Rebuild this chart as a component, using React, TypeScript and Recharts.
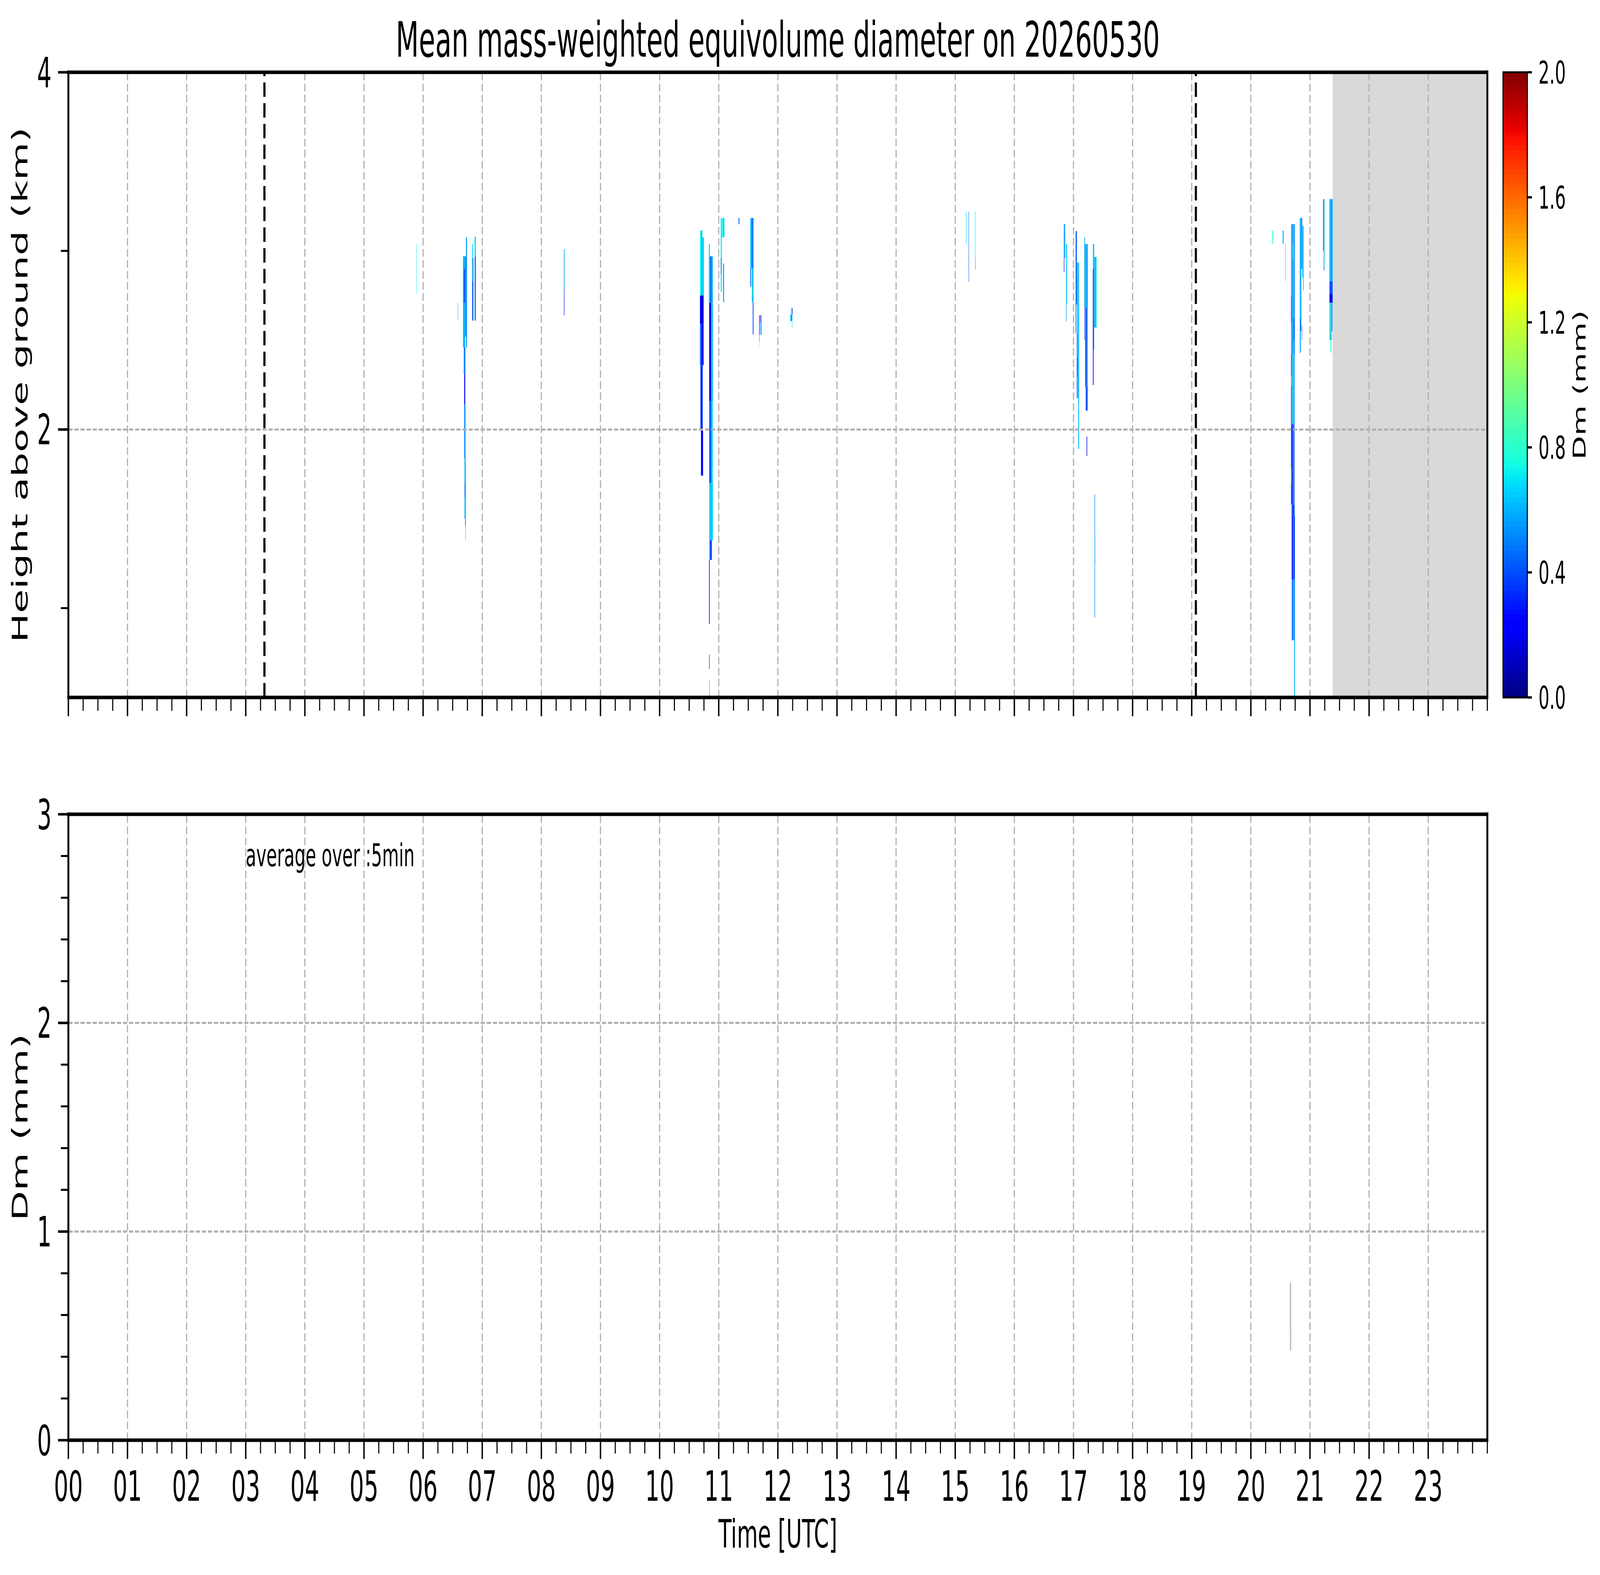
import React from 'react';
import { ComposedChart, XAxis, YAxis, ReferenceArea, ReferenceLine, Line, Scatter } from 'recharts';

const W = 7442;
const H = 4031;
const FONT = "'DejaVu Sans', 'Liberation Sans', sans-serif";

// ---------------- ticks / labels ----------------
const hourTicks = [0, 1, 2, 3, 4, 5, 6, 7, 8, 9, 10, 11, 12, 13, 14, 15, 16, 17, 18, 19, 20, 21, 22, 23];
const hourLabels = ['00', '01', '02', '03', '04', '05', '06', '07', '08', '09', '10', '11', '12', '13', '14', '15', '16', '17', '18', '19', '20', '21', '22', '23'];
const quarterTicks: number[] = [];
for (let h = 0; h < 24; h++) for (let q = 1; q < 4; q++) quarterTicks.push(h + q / 4);
quarterTicks.push(24);
const xTicks = [...hourTicks, ...quarterTicks].sort((a, b) => a - b);

const heightMajorTicks = [2, 4];
const heightLabels = ['2', '4'];
const heightTicks = [1, 2, 3, 4];

const dmMajorTicks = [0, 1, 2, 3];
const dmLabels = ['0', '1', '2', '3'];
const dmTicks: number[] = [];
for (let i = 0; i <= 15; i++) dmTicks.push(i / 5);

const cbarTicks = [0, 0.4, 0.8, 1.2, 1.6, 2.0];
const cbarLabels = ['0.0', '0.4', '0.8', '1.2', '1.6', '2.0'];

const gridHours = hourTicks.slice(1);
const gridHeights = [2];
const gridDm = [1, 2];

// sunrise / sunset markers (hours UTC)
const sunLines = [3.316, 19.07];
// missing data from this time onward
const missingFrom = 21.383;

// ---------------- Dm cells: [t0 (h), t1 (h), h0 (km), h1 (km), Dm (mm)] ----------------
type Cell = [number, number, number, number, number];

const cells0553: Cell[] = [
  [5.884, 5.890, 2.76, 3.04, 0.72],
];

const cells0640: Cell[] = [
  [6.585, 6.589, 2.61, 2.71, 0.45],
  [6.675, 6.688, 2.46, 2.97, 0.62],
  [6.688, 6.700, 2.46, 2.97, 0.50],
  [6.700, 6.712, 2.46, 2.97, 0.66],
  [6.712, 6.725, 2.52, 2.97, 0.48],
  [6.725, 6.742, 2.46, 3.076, 0.55],
  [6.690, 6.705, 2.71, 2.90, 0.35],
  [6.688, 6.715, 2.31, 2.46, 0.50],
  [6.695, 6.712, 2.14, 2.31, 0.26],
  [6.695, 6.716, 1.84, 2.14, 0.52],
  [6.700, 6.720, 1.50, 1.84, 0.60],
  [6.705, 6.712, 1.62, 1.70, 0.38],
  [6.712, 6.720, 1.46, 1.50, 0.30],
  [6.716, 6.720, 1.38, 1.46, 0.45],
  [6.829, 6.842, 2.83, 3.04, 0.65],
  [6.829, 6.842, 2.61, 2.83, 0.45],
  [6.842, 6.850, 2.61, 2.96, 0.30],
  [6.871, 6.892, 2.97, 3.08, 0.68],
  [6.871, 6.880, 2.61, 2.97, 0.50],
  [6.880, 6.892, 2.61, 2.97, 0.42],
];

const cells0823: Cell[] = [
  [8.380, 8.392, 2.79, 3.01, 0.62],
  [8.382, 8.390, 2.64, 2.79, 0.30],
];

const cells1041: Cell[] = [
  [10.683, 10.700, 2.75, 3.114, 0.74],
  [10.700, 10.722, 2.75, 3.114, 0.62],
  [10.722, 10.750, 2.75, 3.076, 0.68],
  [10.683, 10.745, 2.59, 2.75, 0.18],
  [10.683, 10.700, 2.36, 2.59, 0.45],
  [10.700, 10.745, 2.36, 2.59, 0.30],
  [10.690, 10.730, 2.00, 2.36, 0.35],
  [10.700, 10.735, 1.742, 2.00, 0.25],
  [10.833, 10.850, 2.71, 3.04, 0.66],
  [10.850, 10.880, 2.71, 2.97, 0.48],
  [10.880, 10.900, 2.71, 2.97, 0.60],
  [10.838, 10.870, 2.16, 2.71, 0.22],
  [10.870, 10.900, 2.16, 2.71, 0.62],
  [10.838, 10.875, 1.70, 2.16, 0.45],
  [10.875, 10.900, 1.70, 2.16, 0.68],
  [10.840, 10.900, 1.38, 1.70, 0.65],
  [10.845, 10.885, 1.27, 1.38, 0.40],
  [10.835, 10.848, 0.91, 1.27, 0.38],
  [10.838, 10.845, 0.66, 0.74, 0.20],
  [10.840, 10.845, 0.50, 0.60, 0.45],
];

const cells1102: Cell[] = [
  [11.034, 11.050, 2.77, 3.184, 0.70],
  [11.038, 11.046, 2.87, 2.96, 0.40],
  [11.050, 11.070, 3.076, 3.184, 0.76],
  [11.070, 11.096, 3.076, 3.184, 0.66],
  [11.074, 11.090, 2.713, 2.93, 0.55],
  [11.335, 11.350, 3.149, 3.184, 0.45],
];

const cells1132: Cell[] = [
  [11.534, 11.555, 2.90, 3.184, 0.62],
  [11.555, 11.588, 2.90, 3.184, 0.50],
  [11.534, 11.548, 2.80, 2.90, 0.45],
  [11.560, 11.588, 2.713, 2.90, 0.62],
  [11.565, 11.572, 2.75, 2.80, 0.85],
  [11.575, 11.588, 2.533, 2.713, 0.40],
  [11.684, 11.690, 2.53, 2.64, 0.15],
  [11.684, 11.690, 2.49, 2.53, 0.50],
  [11.697, 11.708, 2.60, 2.64, 0.22],
  [11.697, 11.708, 2.53, 2.60, 0.55],
  [11.719, 11.726, 2.53, 2.64, 0.32],
  [11.688, 11.691, 2.46, 2.50, 0.72],
];

const cells1213: Cell[] = [
  [12.233, 12.247, 2.644, 2.68, 0.35],
  [12.207, 12.220, 2.607, 2.644, 0.70],
  [12.220, 12.244, 2.607, 2.644, 0.55],
  [12.236, 12.244, 2.571, 2.607, 0.75],
];

const cells1511: Cell[] = [
  [15.182, 15.190, 3.041, 3.22, 0.72],
  [15.226, 15.232, 2.826, 3.22, 0.40],
  [15.333, 15.340, 2.96, 3.22, 0.70],
  [15.340, 15.346, 2.895, 2.96, 0.50],
];

const cells1650: Cell[] = [
  [16.838, 16.850, 2.96, 3.150, 0.45],
  [16.850, 16.862, 2.96, 3.150, 0.65],
  [16.838, 16.846, 2.88, 2.96, 0.25],
  [16.874, 16.882, 2.605, 3.04, 0.55],
  [16.882, 16.892, 2.70, 3.04, 0.68],
  [16.876, 16.882, 2.90, 2.96, 0.90],
  [17.035, 17.047, 2.54, 3.111, 0.50],
  [17.047, 17.058, 2.70, 3.111, 0.40],
  [17.058, 17.068, 2.54, 2.935, 0.62],
  [17.068, 17.082, 2.54, 2.935, 0.68],
  [17.082, 17.095, 2.54, 2.935, 0.60],
  [17.056, 17.068, 2.175, 2.54, 0.45],
  [17.068, 17.082, 2.175, 2.54, 0.66],
  [17.082, 17.095, 2.175, 2.54, 0.58],
  [17.062, 17.068, 2.30, 2.40, 0.20],
  [17.080, 17.095, 1.891, 2.175, 0.62],
  [17.183, 17.195, 2.682, 3.076, 0.62],
  [17.195, 17.207, 2.682, 3.038, 0.48],
  [17.207, 17.220, 2.682, 3.038, 0.66],
  [17.220, 17.232, 2.682, 3.038, 0.50],
  [17.232, 17.243, 2.682, 3.038, 0.60],
  [17.183, 17.190, 2.50, 2.682, 0.30],
  [17.201, 17.215, 2.237, 2.682, 0.25],
  [17.215, 17.228, 2.237, 2.682, 0.45],
  [17.228, 17.243, 2.237, 2.682, 0.62],
  [17.207, 17.225, 2.106, 2.237, 0.45],
  [17.225, 17.237, 2.106, 2.237, 0.30],
  [17.237, 17.243, 2.106, 2.237, 1.10],
  [17.222, 17.232, 1.853, 1.960, 0.20],
  [17.232, 17.236, 1.853, 1.940, 1.20],
  [17.328, 17.340, 2.90, 3.038, 0.66],
  [17.340, 17.350, 2.90, 3.038, 0.55],
  [17.328, 17.340, 2.249, 2.90, 0.25],
  [17.340, 17.350, 2.45, 2.90, 0.50],
  [17.352, 17.365, 2.571, 2.966, 0.62],
  [17.365, 17.378, 2.571, 2.966, 0.55],
  [17.378, 17.392, 2.571, 2.966, 0.70],
  [17.356, 17.364, 0.947, 1.638, 0.50],
  [17.364, 17.370, 1.25, 1.40, 0.85],
];

const cells2022: Cell[] = [
  [20.363, 20.377, 3.041, 3.114, 0.82],
  [20.538, 20.555, 3.040, 3.114, 0.62],
  [20.583, 20.587, 2.830, 3.044, 0.50],
];

const cells2040: Cell[] = [
  [20.680, 20.691, 2.42, 3.15, 0.55],
  [20.691, 20.702, 2.42, 3.15, 0.70],
  [20.702, 20.713, 2.42, 3.15, 0.45],
  [20.713, 20.724, 2.42, 3.15, 0.65],
  [20.724, 20.735, 2.42, 3.15, 0.60],
  [20.735, 20.745, 2.42, 3.15, 0.50],
  [20.680, 20.686, 2.60, 2.75, 0.25],
  [20.709, 20.716, 2.95, 3.05, 0.85],
  [20.724, 20.730, 2.50, 2.62, 0.25],
  [20.680, 20.691, 2.03, 2.42, 0.30],
  [20.691, 20.702, 2.03, 2.42, 0.75],
  [20.702, 20.713, 2.03, 2.42, 0.50],
  [20.713, 20.724, 2.03, 2.42, 0.90],
  [20.724, 20.740, 2.03, 2.42, 0.55],
  [20.682, 20.688, 2.24, 2.30, 1.35],
  [20.680, 20.691, 1.58, 2.03, 0.25],
  [20.691, 20.702, 1.58, 2.03, 0.45],
  [20.702, 20.713, 1.58, 2.03, 0.20],
  [20.713, 20.724, 1.58, 2.03, 0.60],
  [20.724, 20.738, 1.58, 2.03, 0.40],
  [20.680, 20.685, 1.70, 1.78, 1.30],
  [20.690, 20.740, 1.52, 1.58, 0.40],
  [20.689, 20.703, 1.16, 1.52, 0.40],
  [20.703, 20.717, 1.16, 1.52, 0.25],
  [20.717, 20.731, 1.16, 1.52, 0.50],
  [20.731, 20.745, 1.16, 1.52, 0.35],
  [20.692, 20.710, 0.82, 1.16, 0.45],
  [20.710, 20.728, 0.82, 1.16, 0.60],
  [20.728, 20.745, 0.82, 1.16, 0.50],
  [20.731, 20.745, 0.51, 0.82, 0.62],
  [20.829, 20.842, 2.75, 3.185, 0.50],
  [20.842, 20.855, 2.75, 3.185, 0.65],
  [20.855, 20.868, 2.90, 3.185, 0.45],
  [20.868, 20.882, 2.85, 3.14, 0.62],
  [20.882, 20.895, 2.78, 3.14, 0.68],
  [20.829, 20.845, 2.43, 2.75, 0.55],
  [20.845, 20.860, 2.55, 2.75, 0.75],
  [20.835, 20.842, 2.55, 2.62, 0.25],
  [20.862, 20.868, 2.50, 2.58, 0.40],
];

const cells2113: Cell[] = [
  [21.220, 21.232, 3.00, 3.29, 0.52],
  [21.232, 21.245, 2.89, 3.29, 0.58],
  [21.330, 21.345, 2.83, 3.29, 0.55],
  [21.345, 21.360, 2.83, 3.29, 0.62],
  [21.360, 21.372, 2.83, 3.29, 0.52],
  [21.372, 21.383, 2.83, 3.29, 0.60],
  [21.330, 21.383, 2.76, 2.83, 0.40],
  [21.330, 21.383, 2.71, 2.76, 0.20],
  [21.332, 21.345, 2.50, 2.71, 0.55],
  [21.345, 21.358, 2.43, 2.71, 0.80],
  [21.358, 21.370, 2.50, 2.71, 0.62],
  [21.370, 21.380, 2.55, 2.71, 0.45],
];

const allCells: Cell[] = [
  ...cells0553, ...cells0640, ...cells0823, ...cells1041, ...cells1102, ...cells1132,
  ...cells1213, ...cells1511, ...cells1650, ...cells2022, ...cells2040, ...cells2113,
];

// ---------------- lower panel: surface Dm (5-min average) ----------------
const dmLine = [
  { t: 20.670, v: 0.755 },
  { t: 20.672, v: 0.43 },
];
const annotation = [{ t: 3, v: 2.75, label: 'average over :5min' }];

// ---------------- jet colormap ----------------
const JET_R: [number, number][] = [[0, 0], [0.35, 0], [0.66, 1], [0.89, 1], [1, 0.5]];
const JET_G: [number, number][] = [[0, 0], [0.125, 0], [0.375, 1], [0.64, 1], [0.91, 0], [1, 0]];
const JET_B: [number, number][] = [[0, 0.5], [0.11, 1], [0.34, 1], [0.65, 0], [1, 0]];
function seg(pts: [number, number][], x: number) {
  for (let i = 0; i < pts.length - 1; i++) {
    const [x0, y0] = pts[i];
    const [x1, y1] = pts[i + 1];
    if (x <= x1) return y0 + ((y1 - y0) * (x - x0)) / (x1 - x0 || 1);
  }
  return pts[pts.length - 1][1];
}
function jet(f: number) {
  const x = Math.max(0, Math.min(1, f));
  const r = Math.round(seg(JET_R, x) * 255);
  const g = Math.round(seg(JET_G, x) * 255);
  const b = Math.round(seg(JET_B, x) * 255);
  return `rgb(${r},${g},${b})`;
}
const DM_MAX = 2;
const CBAR_STEPS = 128;
const cbarBands: number[] = [];
for (let i = 0; i < CBAR_STEPS; i++) cbarBands.push(i);

// ---------------- styles ----------------
const GRID = { stroke: '#b0b0b0', strokeWidth: 5.3, strokeDasharray: '19.7 8.5' };
const SPINE = { stroke: '#000', strokeWidth: 9, strokeLinecap: 'square' as const };

// custom ticks: axis tickSize / tickMargin are 0, so (x, y) is the axis position itself
function makeXTick(withLabels: boolean) {
  return (p: any) => {
    const v = Number(p.payload?.value);
    const idx = hourTicks.indexOf(v);
    const major = idx >= 0;
    const y0 = p.y;
    return (
      <g>
        <line x1={p.x} x2={p.x} y1={y0} y2={y0 + (major ? 48 : 34)} stroke="#000" strokeWidth={major ? 6.5 : 5} />
        {withLabels && major ? (
          <text x={p.x} y={y0 + 155} textAnchor="middle" fontSize={106} fill="#000" fontFamily={FONT}>
            {hourLabels[idx]}
          </text>
        ) : null}
      </g>
    );
  };
}

function makeYTick(majors: number[], labels: string[]) {
  return (p: any) => {
    const v = Number(p.payload?.value);
    const idx = majors.indexOf(v);
    const major = idx >= 0;
    const x0 = p.x;
    return (
      <g>
        <line x1={x0} x2={x0 - (major ? 48 : 35)} y1={p.y} y2={p.y} stroke="#000" strokeWidth={major ? 6.5 : 5} />
        {major ? (
          <text x={x0 - 78} y={p.y} dy="0.36em" textAnchor="end" fontSize={106} fill="#000" fontFamily={FONT}>
            {labels[idx]}
          </text>
        ) : null}
      </g>
    );
  };
}

const cbarTick = (p: any) => {
  const v = Number(p.payload?.value);
  const idx = cbarTicks.indexOf(v);
  const x0 = p.x;
  return (
    <g>
      <line x1={x0} x2={x0 + 21} y1={p.y} y2={p.y} stroke="#000" strokeWidth={6} />
      <text x={x0 + 52} y={p.y} dy="0.36em" textAnchor="start" fontSize={80} fill="#000" fontFamily={FONT}>
        {idx >= 0 ? cbarLabels[idx] : ''}
      </text>
    </g>
  );
};

const layer: React.CSSProperties = { position: 'absolute', left: 0, top: 0 };

function TopPanel() {
  return (
    <ComposedChart width={W} height={H} margin={{ top: 185, right: 524, bottom: H - 1785 - 60, left: 0 }}>
      <XAxis xAxisId={0} type="number" dataKey="t" domain={[0, 24]} allowDataOverflow ticks={xTicks} interval={0}
        tickLine={false} axisLine={false} tickSize={0} tickMargin={0} tick={makeXTick(false)} height={60} />
      <YAxis yAxisId={0} type="number" dataKey="v" domain={[0.5, 4]} allowDataOverflow ticks={heightTicks} interval={0}
        tickLine={false} axisLine={false} tickSize={0} tickMargin={0} tick={makeYTick(heightMajorTicks, heightLabels)} width={318} />
      <ReferenceArea x1={missingFrom} x2={24} y1={0.5} y2={4} fill="#d9d9d9" fillOpacity={1} stroke="none" ifOverflow="visible" zIndex={10} />
      {allCells.map((c, i) => (
        <ReferenceArea key={`c${i}`} x1={c[0]} x2={c[1]} y1={c[2]} y2={c[3]} fill={jet(c[4] / DM_MAX)} fillOpacity={1}
          stroke="none" ifOverflow="visible" zIndex={20} />
      ))}
      {gridHours.map((h) => (
        <ReferenceLine key={`gx${h}`} x={h} {...GRID} zIndex={30} />
      ))}
      {gridHeights.map((v) => (
        <ReferenceLine key={`gy${v}`} y={v} {...GRID} zIndex={30} />
      ))}
      {sunLines.map((t) => (
        <ReferenceLine key={`s${t}`} x={t} stroke="#000" strokeWidth={10} strokeDasharray="37 16" zIndex={40} />
      ))}
      <ReferenceLine y={4} {...SPINE} zIndex={600} />
      <ReferenceLine y={0.5} {...SPINE} zIndex={600} />
      <ReferenceLine x={0} {...SPINE} zIndex={600} />
      <ReferenceLine x={24} {...SPINE} zIndex={600} />
    </ComposedChart>
  );
}

function BottomPanel() {
  return (
    <ComposedChart width={W} height={H} margin={{ top: 2084, right: 524, bottom: H - 3686 - 200, left: 0 }}>
      <XAxis xAxisId={0} type="number" dataKey="t" domain={[0, 24]} allowDataOverflow ticks={xTicks} interval={0}
        tickLine={false} axisLine={false} tickSize={0} tickMargin={0} tick={makeXTick(true)} height={200} />
      <YAxis yAxisId={0} type="number" dataKey="v" domain={[0, 3]} allowDataOverflow ticks={dmTicks} interval={0}
        tickLine={false} axisLine={false} tickSize={0} tickMargin={0} tick={makeYTick(dmMajorTicks, dmLabels)} width={318} />
      {gridHours.map((h) => (
        <ReferenceLine key={`gx${h}`} x={h} {...GRID} zIndex={30} />
      ))}
      {gridDm.map((v) => (
        <ReferenceLine key={`gy${v}`} y={v} {...GRID} zIndex={30} />
      ))}
      <Line data={dmLine} dataKey="v" type="linear" stroke="#bdbdbd" strokeWidth={6} dot={false} activeDot={false} isAnimationActive={false} />
      <Scatter data={annotation} dataKey="v" isAnimationActive={false}
        shape={(p: any) => (
          <text x={p.cx} y={p.cy} fontSize={80} fill="#000" fontFamily={FONT} textAnchor="start">
            {p.payload?.label}
          </text>
        )} />
      <ReferenceLine y={3} {...SPINE} zIndex={600} />
      <ReferenceLine y={0} {...SPINE} zIndex={600} />
      <ReferenceLine x={0} {...SPINE} zIndex={600} />
      <ReferenceLine x={24} {...SPINE} zIndex={600} />
    </ComposedChart>
  );
}

function ColorBar() {
  return (
    <ComposedChart width={W} height={H} margin={{ top: 185, right: 38, bottom: H - 1785 - 10, left: 6991 }}>
      <XAxis xAxisId={0} type="number" dataKey="t" domain={[0, 1]} allowDataOverflow ticks={[]} tick={false}
        tickLine={false} axisLine={false} height={10} />
      <YAxis yAxisId={0} orientation="right" type="number" dataKey="v" domain={[0, DM_MAX]} allowDataOverflow ticks={cbarTicks}
        interval={0} tickLine={false} axisLine={false} tickSize={0} tickMargin={0} tick={cbarTick} width={300} />
      {cbarBands.map((i) => (
        <ReferenceArea key={`b${i}`} x1={0} x2={1} y1={(i / CBAR_STEPS) * DM_MAX}
          y2={Math.min(DM_MAX, ((i + 1.3) / CBAR_STEPS) * DM_MAX)} fill={jet((i + 0.5) / CBAR_STEPS)} fillOpacity={1}
          stroke="none" ifOverflow="visible" />
      ))}
      <ReferenceArea x1={0} x2={1} y1={0} y2={DM_MAX} fill="none" fillOpacity={0} stroke="#000" strokeWidth={5} ifOverflow="visible" />
    </ComposedChart>
  );
}

function Texts() {
  return (
    <svg width={W} height={H} style={{ ...layer, pointerEvents: 'none' }} fontFamily={FONT}>
      <text x={3618} y={145} textAnchor="middle" fontSize={124} fill="#000">
        Mean mass-weighted equivolume diameter on 20260530
      </text>
      <text x={128} y={985} textAnchor="middle" fontSize={100} fill="#000" transform="rotate(-90 128 985)">
        Height above ground (km)
      </text>
      <text x={128} y={2885} textAnchor="middle" fontSize={100} fill="#000" transform="rotate(-90 128 2885)">
        Dm (mm)
      </text>
      <text x={3618} y={3961} textAnchor="middle" fontSize={100} fill="#000">
        Time [UTC]
      </text>
      <text x={7374} y={985} textAnchor="middle" fontSize={80} fill="#000" transform="rotate(-90 7374 985)">
        Dm (mm)
      </text>
    </svg>
  );
}

export default function App() {
  // The browser may cap the window below the requested size; fit the
  // 7442x4031 layout into the viewport we actually get.
  const vw = typeof window !== 'undefined' ? window.innerWidth : W;
  const vh = typeof window !== 'undefined' ? window.innerHeight : H;
  const sx = vw > 0 && vw < W ? vw / W : 1;
  const sy = vh > 0 && vh < H ? vh / H : 1;
  return (
    <div style={{ position: 'fixed', left: 0, top: 0, width: W * sx, height: H * sy, overflow: 'hidden', background: '#fff' }}>
      <div style={{ position: 'absolute', left: 0, top: 0, width: W, height: H, background: '#fff', fontFamily: FONT,
        transform: `scale(${sx}, ${sy})`, transformOrigin: '0 0' }}>
        <div style={layer}>
          <TopPanel />
        </div>
        <div style={layer}>
          <BottomPanel />
        </div>
        <div style={layer}>
          <ColorBar />
        </div>
        <Texts />
      </div>
    </div>
  );
}
